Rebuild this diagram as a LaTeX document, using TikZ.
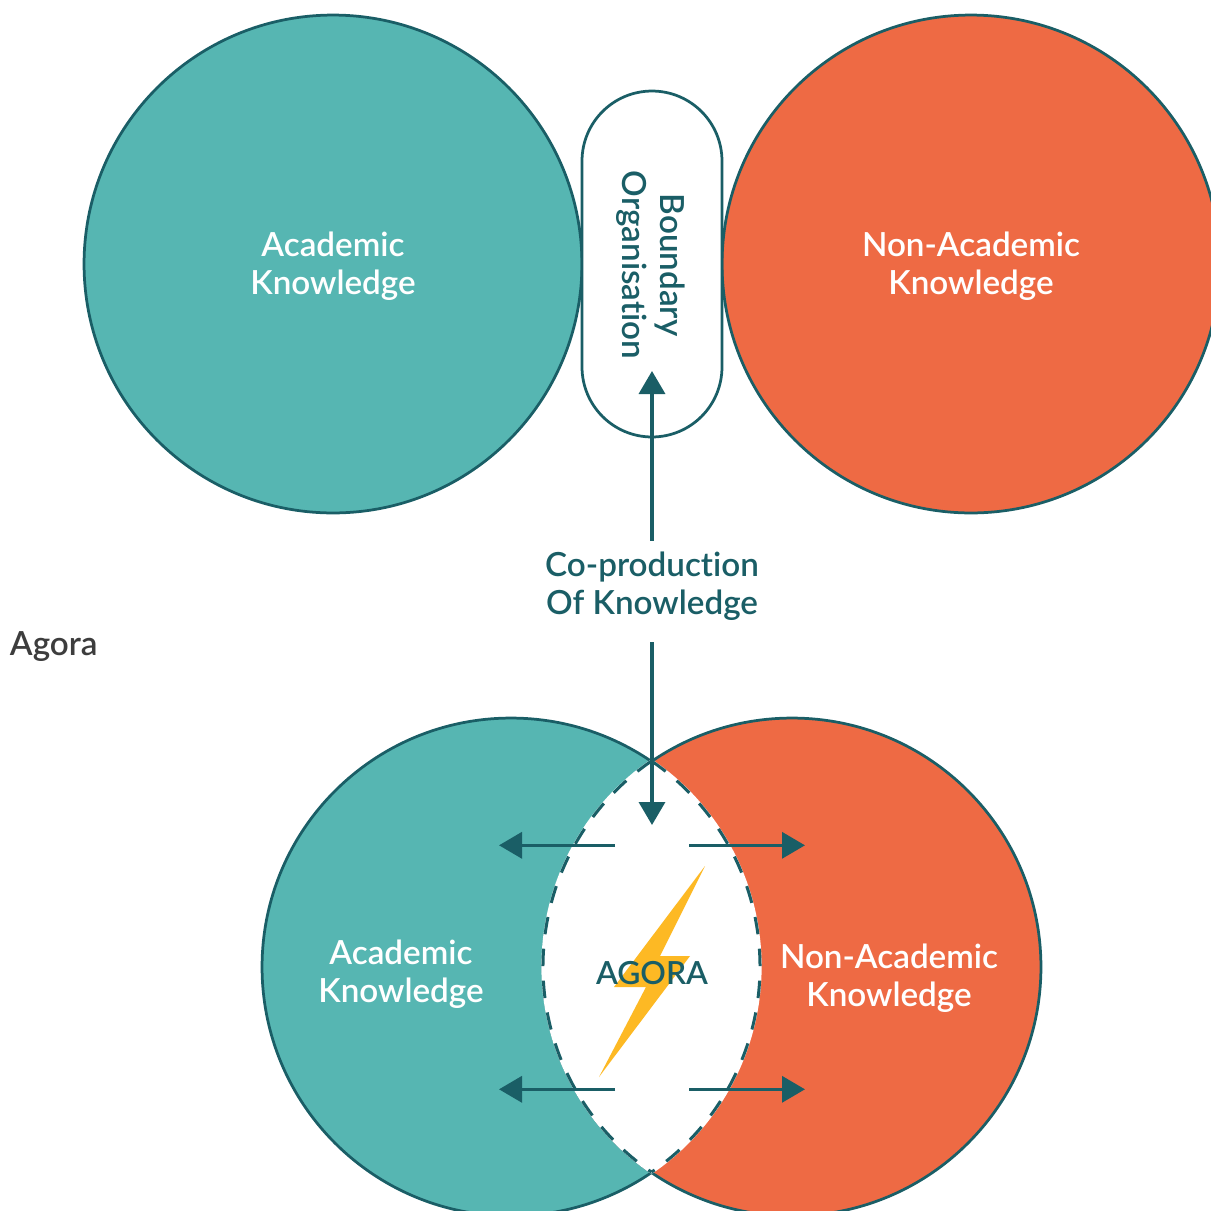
\documentclass[tikz,border=0pt]{standalone}
\usepackage{fontspec}
\setmainfont{Lato}[Ligatures=NoCommon]
\newfontfamily\labelfont{Lato Semibold}[Ligatures=NoCommon]
\usetikzlibrary{arrows.meta}
\definecolor{tealfill}{HTML}{56B6B2}
\definecolor{orangefill}{HTML}{EE6A44}
\definecolor{darkline}{HTML}{1A5E66}
\definecolor{boltyellow}{HTML}{FDB924}
\definecolor{agoragrey}{HTML}{3D3D3D}
\tikzset{
  x=0.02cm,y=-0.02cm,
  knowcircle/.style={circle,draw=darkline,line width=0.055cm,minimum size=9.96cm,inner sep=0pt,outer sep=0pt},
  label/.style={align=center,inner sep=0pt,outer sep=0pt,font=\fontsize{18.9}{21.5}\selectfont\labelfont},
  whitelabel/.style={label,text=white},
  darklabel/.style={label,text=darkline},
  conn/.style={draw=darkline,line width=0.07cm,-{Triangle[length=0.46cm,width=0.52cm]}},
  lensdash/.style={draw=darkline,line width=0.06cm,dash pattern=on 0.35cm off 0.29cm},
}
\begin{document}
\begin{tikzpicture}
\useasboundingbox (0,0) rectangle (1211,1211);
\clip (0,0) rectangle (1211,1211);
\node[knowcircle,fill=tealfill] (acad) at (333,264) {};
\node[knowcircle,fill=orangefill] (nonacad) at (971,264) {};
\node[whitelabel] (acadtext) at (333,266) {Academic\\Knowledge};
\node[whitelabel] (nonacadtext) at (971,266) {Non-Academic\\Knowledge};
\node[rectangle,draw=darkline,fill=white,line width=0.055cm,rounded corners=1.4cm,minimum width=2.8cm,minimum height=6.92cm,outer sep=0pt] (bound) at (652,264) {};
\node[darklabel,rotate=-90] (boundtext) at (651,265) {Boundary\\Organisation};
\node[darklabel] (coprod) at (652,586) {Co-production\\Of Knowledge};
\node[label,text=agoragrey,anchor=west] (agora) at (10,647) {Agora};
\node[knowcircle,fill=tealfill] (acadlow) at (511,967) {};
\node[knowcircle,fill=orangefill] (nonacadlow) at (792,967) {};
\coordinate (lenstop) at (651.5,761);
\coordinate (lensbot) at (651.5,1173);
\fill[white,draw=white,line width=0.065cm,line join=bevel] (lenstop) arc[start angle=55.66,end angle=-55.66,radius=4.98cm] arc[start angle=235.66,end angle=124.34,radius=4.98cm] -- cycle;
\draw[lensdash] (lenstop) arc[start angle=55.66,end angle=-55.66,radius=4.98cm];
\draw[lensdash] (lenstop) arc[start angle=124.34,end angle=235.66,radius=4.98cm];
\fill[boltyellow] (705,866) -- (660,956) -- (690,956) -- (599,1077) -- (646,987) -- (614,987) -- cycle;
\node[darklabel,font=\fontsize{18.1}{21.5}\selectfont\labelfont] (agoratext) at (652,973.5) {AGORA};
\node[whitelabel] (acadlowtext) at (401,974) {Academic\\Knowledge};
\node[whitelabel] (nonacadlowtext) at (889,978) {Non-Academic\\Knowledge};
\coordinate (uptip) at (652,371);
\coordinate (downtip) at (652,825);
\coordinate (ulS) at (615,845.3); \coordinate (ulE) at (499,845.3);
\coordinate (urS) at (689,845.3); \coordinate (urE) at (805,845.3);
\coordinate (llS) at (615,1089.3); \coordinate (llE) at (499,1089.3);
\coordinate (lrS) at (689,1089.3); \coordinate (lrE) at (805,1089.3);
\draw[conn] ([yshift=0.22cm]coprod.north) -- (uptip);
\draw[conn] ([yshift=-0.44cm]coprod.south) -- (downtip);
\draw[conn] (ulS) -- (ulE);
\draw[conn] (urS) -- (urE);
\draw[conn] (llS) -- (llE);
\draw[conn] (lrS) -- (lrE);
\end{tikzpicture}
\end{document}
